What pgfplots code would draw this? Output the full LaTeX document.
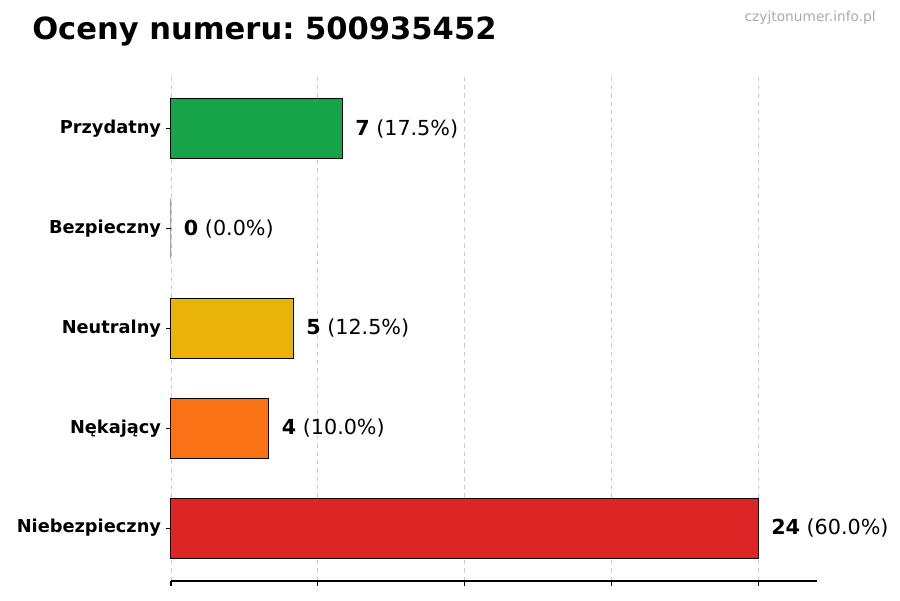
\documentclass[border=0pt]{standalone}
\usepackage{fontspec}
\setmainfont{DejaVu Sans}
\usepackage{pgfplots}
\pgfplotsset{compat=1.18}
\frenchspacing

\definecolor{cgreen}{HTML}{16A34A}
\definecolor{cblue}{HTML}{2563EB}
\definecolor{cyellow}{HTML}{EAB308}
\definecolor{corange}{HTML}{F97316}
\definecolor{cred}{HTML}{DC2626}
\definecolor{cgrid}{HTML}{CCCCCC}
\definecolor{cmark}{HTML}{AAAAAA}

\begin{document}
\begin{tikzpicture}
\useasboundingbox (0,0) rectangle (648pt,432pt);
\begin{axis}[
    at={(123.12pt,13.7pt)}, anchor=south west,
    scale only axis,
    width=465.12pt, height=363.6pt,
    xbar, bar width=0.6, bar shift=0pt,
    xmin=0, xmax=26.4,
    ymin=-0.53, ymax=4.53,
    clip=false,
    axis x line*=bottom, axis y line*=left,
    y axis line style={draw=none},
    x axis line style={line width=0.8pt, -},
    xtick={0,6,12,18,24}, xticklabels={},
    ytick={0,1,2,3,4},
    yticklabels={Niebezpieczny, Nękający, Neutralny, Bezpieczny, Przydatny},
    yticklabel style={font=\bfseries\fontsize{12.8}{15}\selectfont, inner sep=0pt, xshift=-3.5pt},
    tick align=outside, major tick length=3.5pt,
    tick style={black, line width=0.8pt},
    xmajorgrids,
    grid style={cgrid, dashed, line width=0.6pt},
    nodes near coords,
    every node near coord/.append style={anchor=west, inner sep=0pt, xshift=9pt,
        font=\fontsize{14.9}{17}\selectfont, black},
    every axis plot/.append style={draw=black, line width=0.72pt},
]
\addplot[fill=cred, nodes near coords={\textbf{24} (60.0\%)}] coordinates {(24,0)};
\addplot[fill=corange, nodes near coords={\textbf{4} (10.0\%)}] coordinates {(4,1)};
\addplot[fill=cyellow, nodes near coords={\textbf{5} (12.5\%)}] coordinates {(5,2)};
\addplot[fill=cblue, nodes near coords={\textbf{0} (0.0\%)}] coordinates {(0,3)};
\addplot[fill=cgreen, nodes near coords={\textbf{7} (17.5\%)}] coordinates {(7,4)};
\end{axis}
\node[anchor=base west, inner sep=0pt, font=\bfseries\fontsize{22}{26}\selectfont] at (23.04pt,403.2pt) {Oceny numeru: 500935452};
\node[anchor=base east, inner sep=0pt, text=cmark, font=\fontsize{9.9}{12}\selectfont] at (630.7pt,416.2pt) {czyjtonumer.info.pl};
\end{tikzpicture}
\end{document}
